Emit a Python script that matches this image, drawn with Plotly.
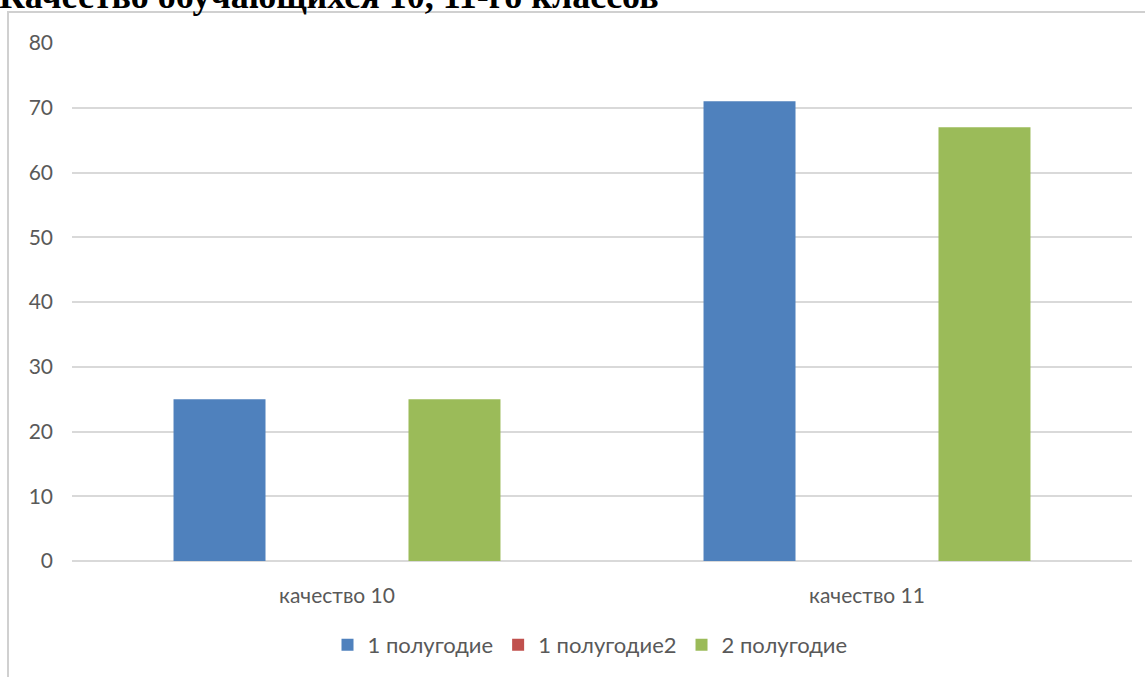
import plotly.graph_objects as go

categories = ["качество 10", "качество 11"]
series_names = ["1 полугодие", "1 полугодие2", "2 полугодие"]
s1_values = [25, 71]
s2_values = [0, 0]
s3_values = [25, 67]
colors = ["#4f81bd", "#c0504d", "#9bbb59"]
y_ticks = [0, 10, 20, 30, 40, 50, 60, 70, 80]
title_text = "Качество обучающихся 10, 11-го классов"

W, H = 1145, 677
ml, mr, mt, mb = 72, 13, 43, 115
pw = W - ml - mr
ph = H - mt - mb

def px_x(x):
    return (x - ml) / pw

def px_y(y):
    return (H - mb - y) / ph

fig = go.Figure()
for name, vals, col in zip(series_names, [s1_values, s2_values, s3_values], colors):
    fig.add_trace(go.Bar(x=categories, y=vals, name=name, marker_color=col,
                         marker_line_width=0))

fig.update_layout(
    width=W, height=H,
    margin=dict(l=ml, r=mr, t=mt, b=mb),
    paper_bgcolor="white", plot_bgcolor="white",
    barmode="group", bargap=0.335, bargroupgap=0.217,
    font=dict(family="Lato", size=21, color="#595959"),
    showlegend=True,
    legend=dict(orientation="h", x=px_x(590), xanchor="center",
                y=px_y(645), yanchor="middle",
                font=dict(family="Lato", size=22, color="#595959"),
                itemwidth=30, traceorder="normal"),
    xaxis=dict(showgrid=False, showline=False, ticks="", zeroline=False,
               ticklabelstandoff=20, tickfont=dict(size=21, color="#595959")),
    yaxis=dict(range=[0, 80], tickvals=y_ticks, showgrid=True,
               gridcolor="#d9d9d9", gridwidth=1.5, zeroline=True,
               zerolinecolor="#d9d9d9", zerolinewidth=1.5, showline=False,
               ticks="", ticklabelstandoff=18,
               tickfont=dict(size=21, color="#595959")),
)

# chart frame border (partially outside view)
fig.add_shape(type="rect", xref="paper", yref="paper",
              x0=px_x(8), x1=px_x(W + 20), y0=px_y(H + 20), y1=px_y(12),
              line=dict(color="#d0d0d0", width=2), fillcolor="rgba(0,0,0,0)",
              layer="below")

fig.add_annotation(text="<b>" + title_text + "</b>", xref="paper", yref="paper",
                   x=px_x(-3), xanchor="left", y=px_y(18), yanchor="bottom",
                   showarrow=False,
                   font=dict(family="Liberation Serif", size=36, color="black"))

fig.write_html("out.html", config={"displayModeBar": False},
               post_script="document.body.style.margin='0';document.body.style.overflow='hidden';")
